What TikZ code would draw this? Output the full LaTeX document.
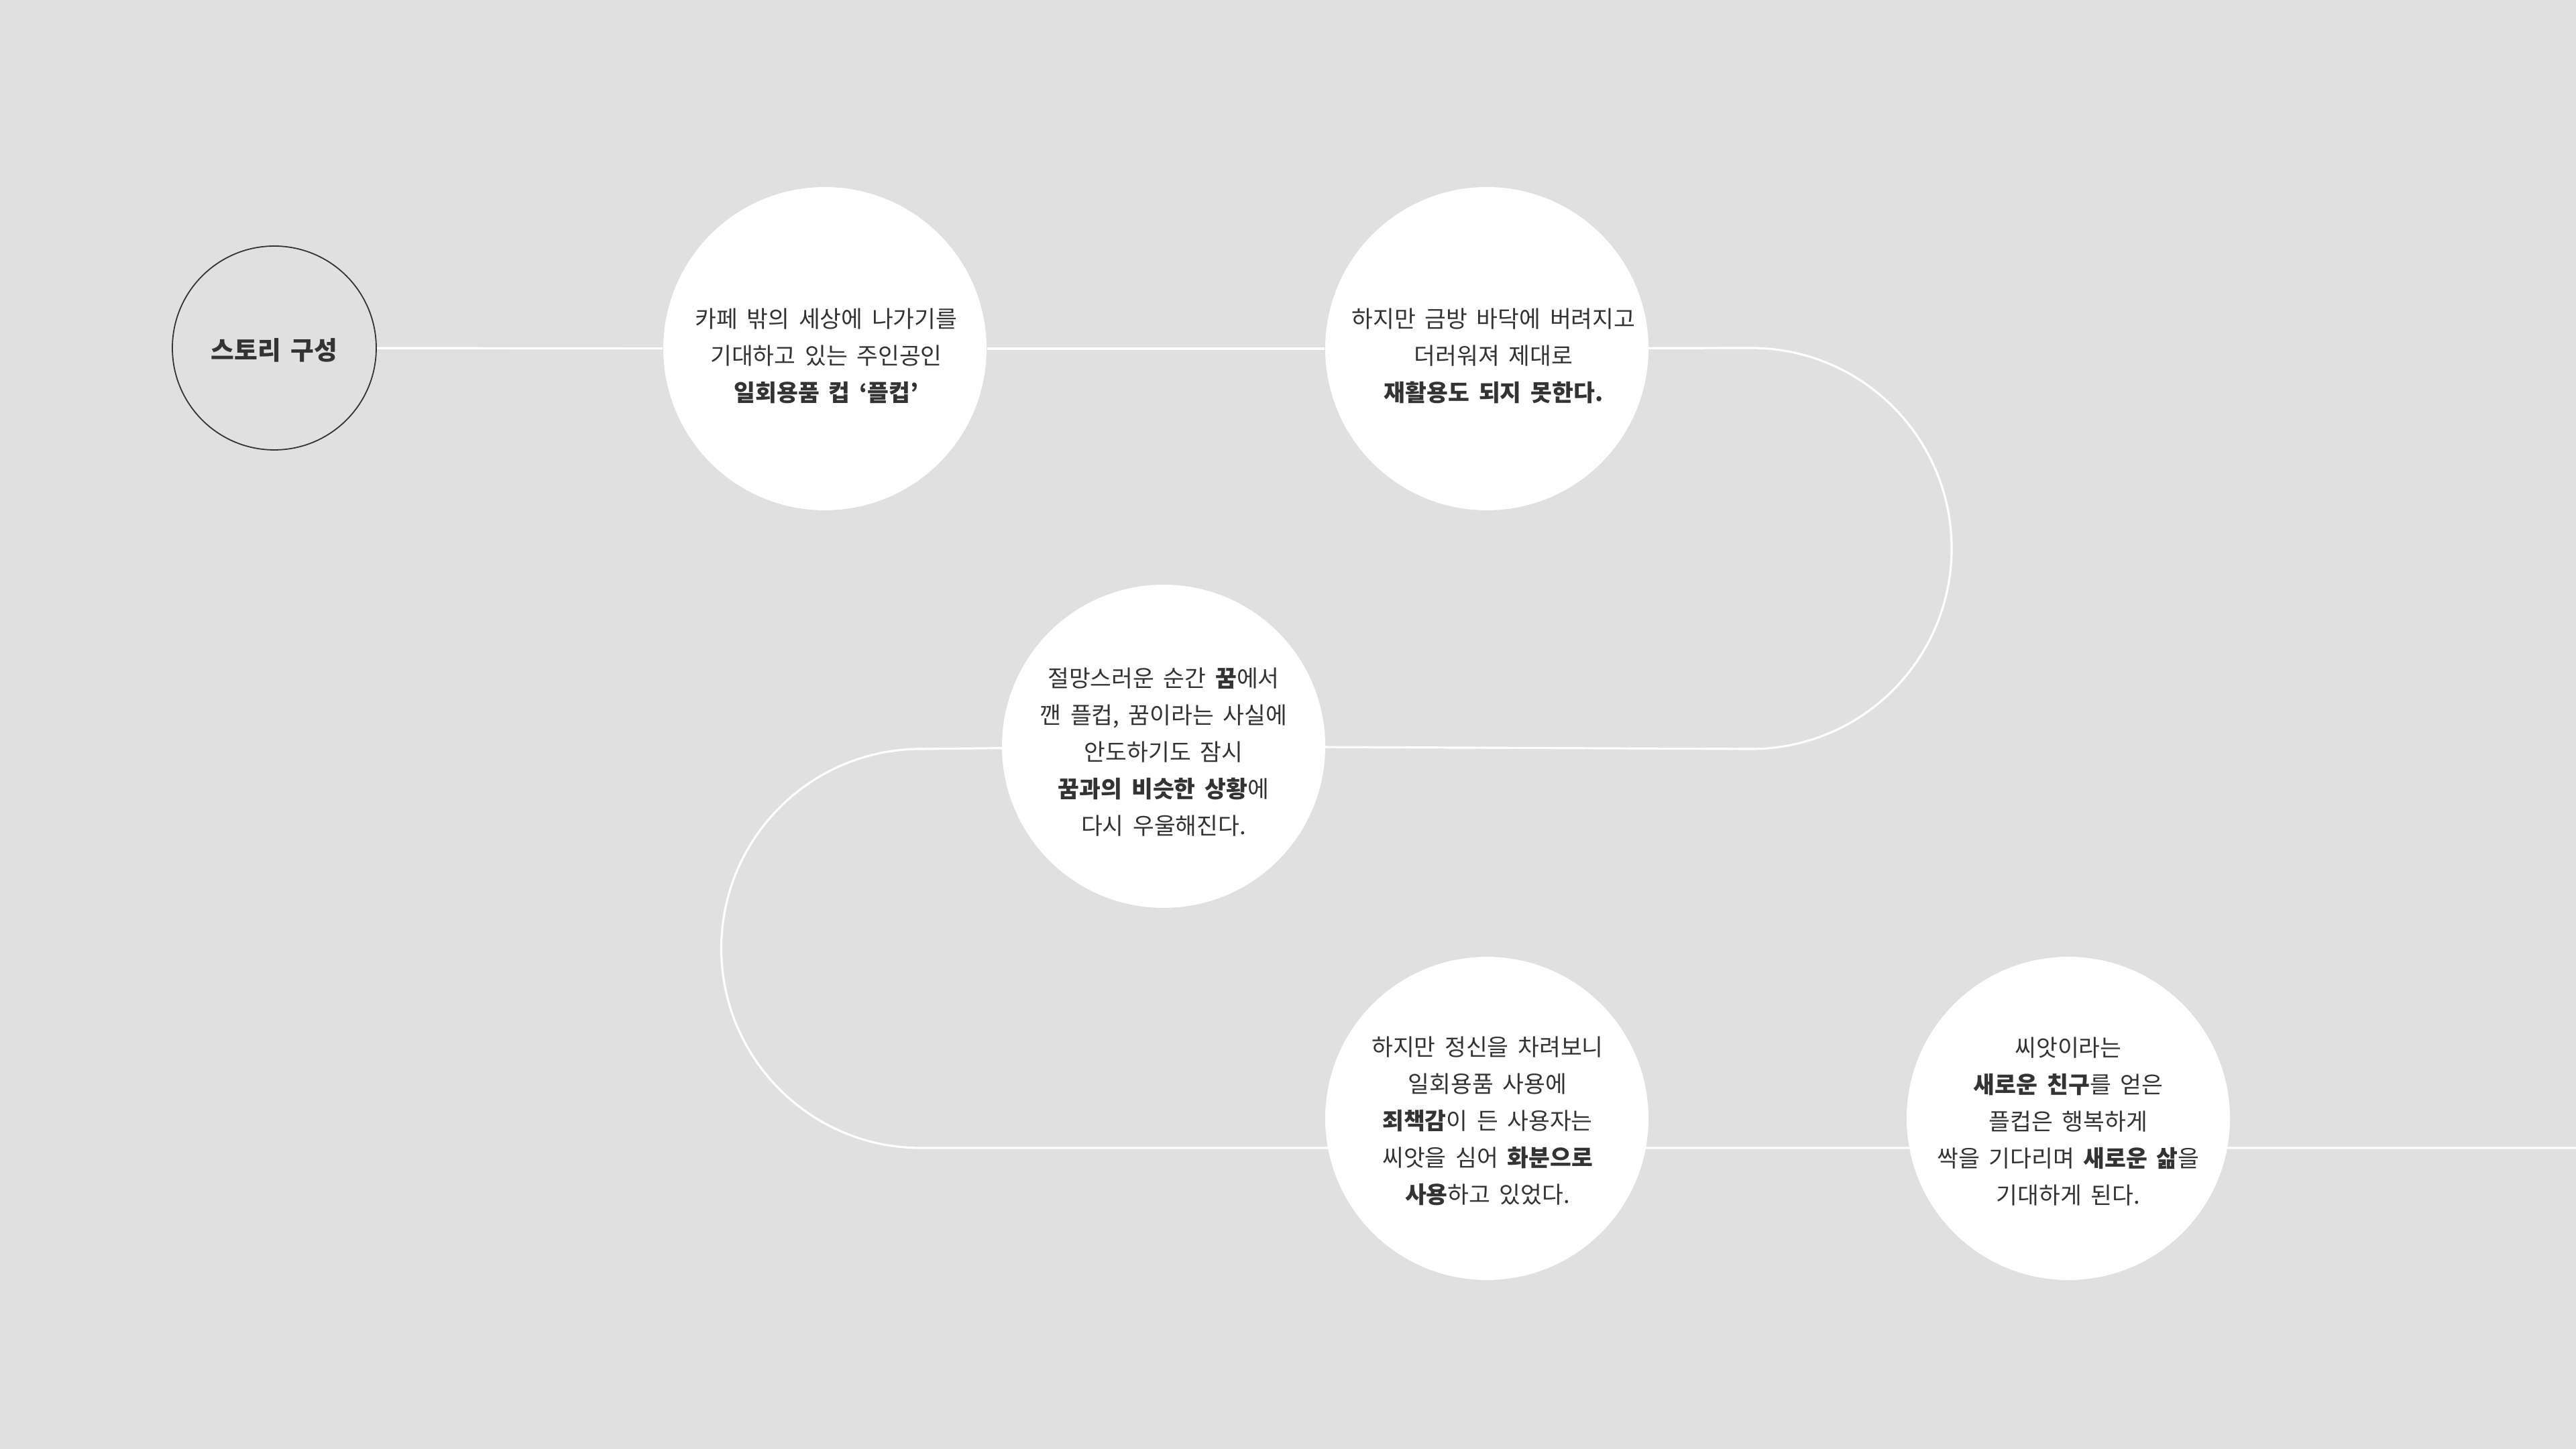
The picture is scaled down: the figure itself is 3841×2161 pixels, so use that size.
\documentclass[tikz,border=0pt]{standalone}
\usepackage{fontspec}
\setmainfont{Noto Sans CJK KR}[WordSpace=1.75]
\definecolor{bgc}{HTML}{E0E0E0}
\definecolor{txtc}{HTML}{333333}
\pgfdeclarelayer{back}
\pgfsetlayers{back,main}
\begin{document}
\begin{tikzpicture}[x=0.25pt,y=0.25pt,
  bub/.style={circle,fill=white,draw=none,inner sep=0pt,minimum size=120.5pt},
  startbub/.style={circle,draw=txtc,line width=0.45pt,inner sep=0pt,minimum size=76pt},
  txt/.style={align=center,text=txtc,inner sep=0pt,font=\fontsize{8.65}{13.75}\selectfont},
  wire/.style={draw=white,line width=0.8pt}]
\useasboundingbox (0,0) rectangle (3841,2161);
% circles
\node[startbub] (s) at (409,1642) {};
\node[bub] (c1) at (1230,1641) {};
\node[bub] (c2) at (2217,1641) {};
\node[bub] (c3) at (1735,1048) {};
\node[bub] (c4) at (2217,493) {};
\node[bub] (c5) at (3084,493) {};
% texts
\node[text=txtc,inner sep=0pt,font=\fontsize{9.45}{11}\selectfont\bfseries] (ts) at (409,1639) {스토리 구성};
\node[txt] (t1) at (1232,1630) {카페 밖의 세상에 나가기를\\기대하고 있는 주인공인\\\textbf{일회용품 컵 ‘플컵’}};
\node[txt] (t2) at (2227,1630) {하지만 금방 바닥에 버려지고\\더러워져 제대로\\\textbf{재활용도 되지 못한다.}};
\node[txt] (t3) at (1735,1039) {절망스러운 순간 \textbf{꿈}에서\\깬 플컵, 꿈이라는 사실에\\안도하기도 잠시\\\textbf{꿈과의 비슷한 상황}에\\다시 우울해진다.};
\node[txt] (t4) at (2218,489) {하지만 정신을 차려보니\\일회용품 사용에\\\textbf{죄책감}이 든 사용자는\\씨앗을 심어 \textbf{화분으로}\\\textbf{사용}하고 있었다.};
\node[txt] (t5) at (3084,488) {씨앗이라는\\\textbf{새로운 친구}를 얻은\\플컵은 행복하게\\싹을 기다리며 \textbf{새로운 삶}을\\기대하게 된다.};
% path coordinates
\coordinate (r1) at (2611,1642);
\coordinate (r2) at (2611,1044);
\coordinate (l1) at (1373,1044);
\coordinate (l2) at (1373,449);
\coordinate (endpt) at (3841,449);
\begin{pgfonlayer}{back}
\fill[bgc] (0,0) rectangle (3841,2161);
\draw[wire] (s) -- (c1);
\draw[wire] (c1) -- (c2);
\draw[wire] (c2.center) -- (r1) arc[start angle=90,end angle=-90,radius=74.75pt] -- (c3.center);
\draw[wire] (c3.center) -- (l1) arc[start angle=90,end angle=270,radius=74.375pt] -- (l2 -| c4) -- (l2 -| c5) -- (endpt);
\end{pgfonlayer}
\end{tikzpicture}
\end{document}
